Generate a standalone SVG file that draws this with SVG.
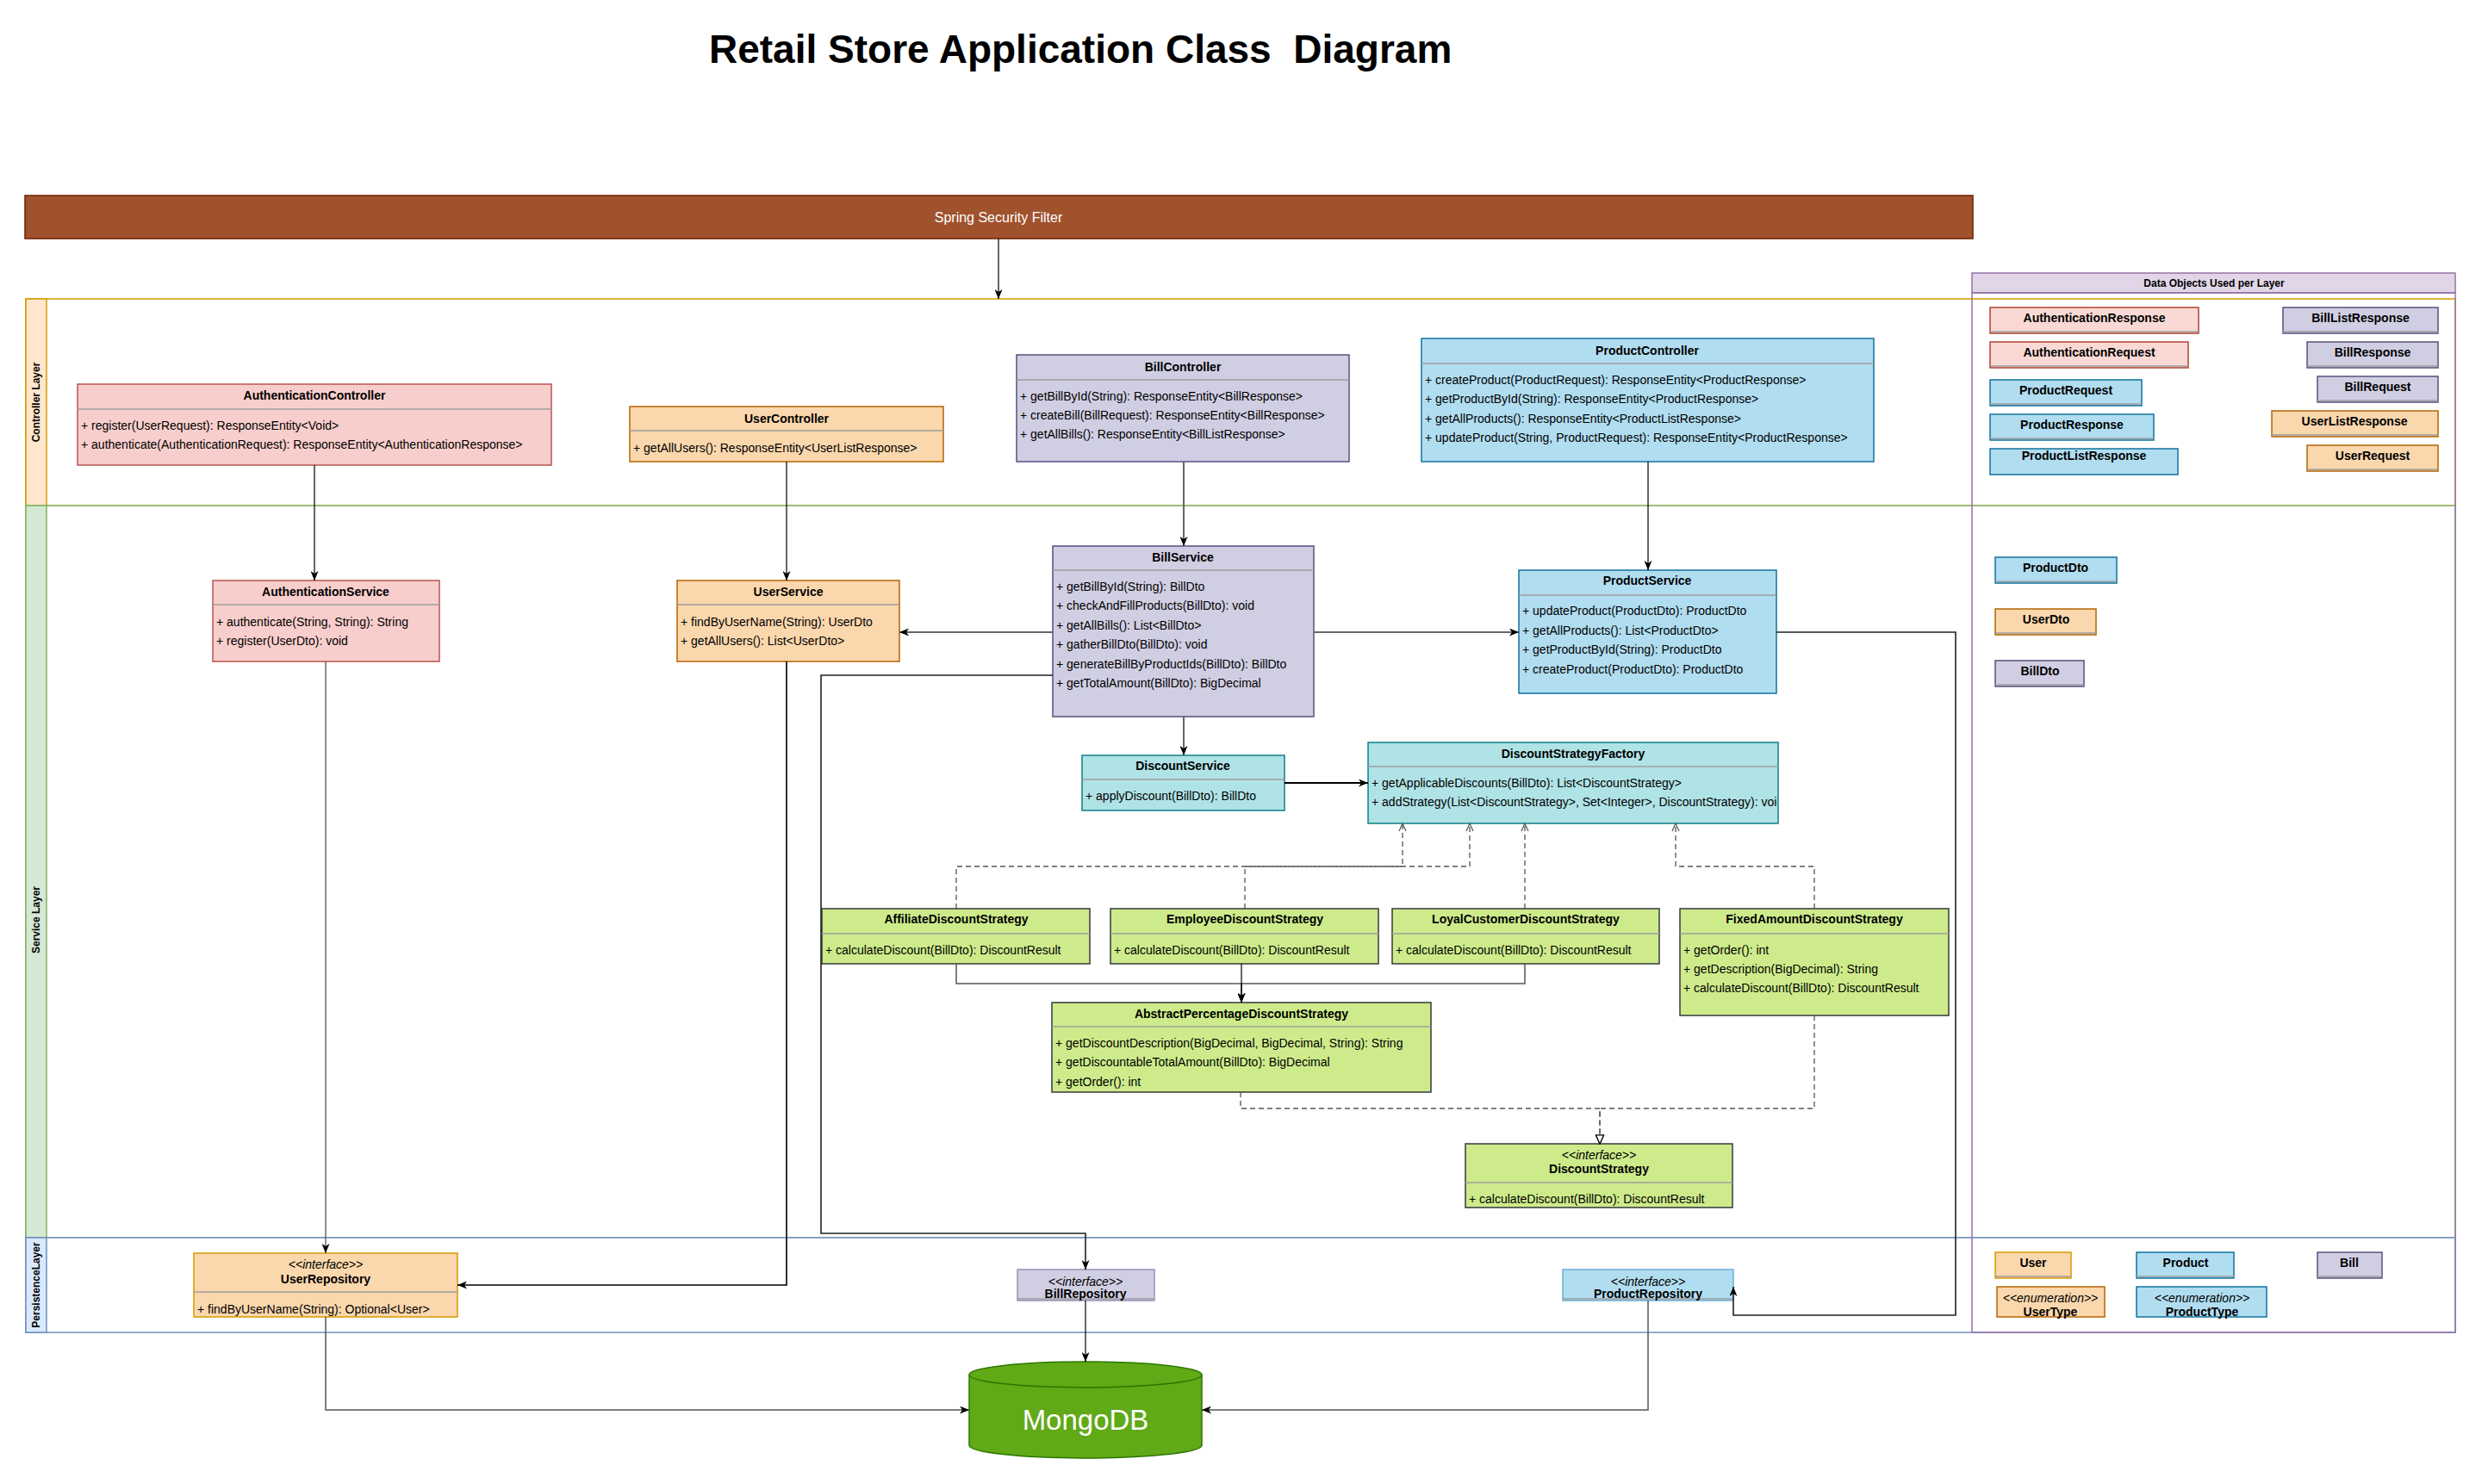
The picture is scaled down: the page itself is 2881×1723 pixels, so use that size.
<svg xmlns="http://www.w3.org/2000/svg" width="2881" height="1723" viewBox="0 0 2881 1723">
<style>
text{font-family:"Liberation Sans",Arial,Helvetica,sans-serif;font-size:14px;fill:#000}
.b{font-weight:bold}
.c{text-anchor:middle}
.i{font-style:italic}
.sep{stroke:#9e9e9e;stroke-width:1.5}
.box{stroke-width:1.5}
.red{fill:#f8cecc;stroke:#b85450}
.pink{fill:#fad9d5;stroke:#ae4132}
.org{fill:#fad7ac;stroke:#b46504}
.pur{fill:#d0cee2;stroke:#56517e}
.blu{fill:#b1ddf0;stroke:#10739e}
.teal{fill:#b0e3e6;stroke:#0e8088}
.grn{fill:#cdeb8b;stroke:#36393d}
.ln{fill:none;stroke:#000;stroke-width:1.2}
.lg{fill:none;stroke:#666;stroke-width:2}
.ld{fill:none;stroke:#555;stroke-width:1.3;stroke-dasharray:6 4}
.lane{font-size:12px;font-weight:bold}
</style>
<defs>
<marker id="arr" markerUnits="userSpaceOnUse" markerWidth="11" markerHeight="9" refX="11" refY="4.5" orient="auto">
<path d="M0,0 L11,4.5 L0,9 L3,4.5 Z" fill="#000"/>
</marker>
<marker id="open" markerUnits="userSpaceOnUse" markerWidth="11" markerHeight="11" refX="10" refY="5" orient="auto">
<path d="M1,1 L10,5 L1,9" fill="none" stroke="#555" stroke-width="1.2"/>
</marker>
<marker id="tri" markerUnits="userSpaceOnUse" markerWidth="12" markerHeight="12" refX="11" refY="5.5" orient="auto">
<path d="M1,1 L11,5.5 L1,10 Z" fill="#fff" stroke="#000" stroke-width="1.2"/>
</marker>
<clipPath id="clipF"><rect x="1588" y="862" width="475" height="94"/></clipPath>
</defs>
<rect x="0" y="0" width="2881" height="1723" fill="#fff"/>

<text id="title" x="823" y="73" class="b" style="font-size:46px;white-space:pre" xml:space="preserve">Retail Store Application Class  Diagram</text>

<g id="lanes">
<g id="controller-lane">
<rect x="30" y="347" width="2820" height="240" fill="#fff" stroke="#d79b00" stroke-width="1.5"/>
<rect x="30" y="347" width="24" height="240" fill="#ffe6cc" stroke="#d79b00" stroke-width="1.5"/>
<text class="lane c" transform="translate(46,467) rotate(-90)">Controller Layer</text>
</g>
<g id="service-lane">
<rect x="30" y="587" width="2820" height="850" fill="#fff" stroke="#82b366" stroke-width="1.5"/>
<rect x="30" y="587" width="24" height="850" fill="#d5e8d4" stroke="#82b366" stroke-width="1.5"/>
<text class="lane c" transform="translate(46,1068) rotate(-90)">Service Layer</text>
</g>
<g id="persistence-lane">
<rect x="30" y="1437" width="2820" height="110" fill="#fff" stroke="#6c8ebf" stroke-width="1.5"/>
<rect x="30" y="1437" width="24" height="110" fill="#dae8fc" stroke="#6c8ebf" stroke-width="1.5"/>
<text class="lane c" transform="translate(46,1492) rotate(-90)">PersistenceLayer</text>
</g>
</g>

<g id="spring-security-filter">
<rect x="29" y="227" width="2261" height="50" fill="#a0522d" stroke="#6d1f00" stroke-width="1.5"/>
<text x="1159" y="258" class="c" style="font-size:16px;fill:#fff">Spring Security Filter</text>
</g>

<g id="data-objects-panel">
<rect x="2289" y="317" width="561" height="23" fill="#e1d5e7" stroke="#9673a6" stroke-width="1.5"/>
<rect x="2289" y="340" width="561" height="1207" fill="none" stroke="#9673a6" stroke-width="1.5"/>
<text x="2570" y="333" class="b c" style="font-size:12px">Data Objects Used per Layer</text>
</g>

<g id="AuthenticationController">
<rect x="90" y="446" width="550" height="94" class="box red"/>
<line x1="90" y1="475" x2="640" y2="475" class="sep"/>
<text x="365" y="464" class="b c">AuthenticationController</text>
<text x="94" y="499">+ register(UserRequest): ResponseEntity&lt;Void&gt;</text>
<text x="94" y="521">+ authenticate(AuthenticationRequest): ResponseEntity&lt;AuthenticationResponse&gt;</text>
</g>
<g id="UserController">
<rect x="731" y="472" width="364" height="64" class="box org"/>
<line x1="731" y1="500" x2="1095" y2="500" class="sep"/>
<text x="913" y="491" class="b c">UserController</text>
<text x="735" y="525">+ getAllUsers(): ResponseEntity&lt;UserListResponse&gt;</text>
</g>
<g id="BillController">
<rect x="1180" y="412" width="386" height="124" class="box pur"/>
<line x1="1180" y1="441" x2="1566" y2="441" class="sep"/>
<text x="1373" y="431" class="b c">BillController</text>
<text x="1184" y="465">+ getBillById(String): ResponseEntity&lt;BillResponse&gt;</text>
<text x="1184" y="487">+ createBill(BillRequest): ResponseEntity&lt;BillResponse&gt;</text>
<text x="1184" y="509">+ getAllBills(): ResponseEntity&lt;BillListResponse&gt;</text>
</g>
<g id="ProductController">
<rect x="1650" y="393" width="525" height="143" class="box blu"/>
<line x1="1650" y1="422" x2="2175" y2="422" class="sep"/>
<text x="1912" y="412" class="b c">ProductController</text>
<text x="1654" y="446">+ createProduct(ProductRequest): ResponseEntity&lt;ProductResponse&gt;</text>
<text x="1654" y="468">+ getProductById(String): ResponseEntity&lt;ProductResponse&gt;</text>
<text x="1654" y="491">+ getAllProducts(): ResponseEntity&lt;ProductListResponse&gt;</text>
<text x="1654" y="513">+ updateProduct(String, ProductRequest): ResponseEntity&lt;ProductResponse&gt;</text>
</g>

<g id="AuthenticationService">
<rect x="247" y="674" width="263" height="94" class="box red"/>
<line x1="247" y1="702" x2="510" y2="702" class="sep"/>
<text x="378" y="692" class="b c">AuthenticationService</text>
<text x="251" y="727">+ authenticate(String, String): String</text>
<text x="251" y="749">+ register(UserDto): void</text>
</g>
<g id="UserService">
<rect x="786" y="674" width="258" height="94" class="box org"/>
<line x1="786" y1="702" x2="1044" y2="702" class="sep"/>
<text x="915" y="692" class="b c">UserService</text>
<text x="790" y="727">+ findByUserName(String): UserDto</text>
<text x="790" y="749">+ getAllUsers(): List&lt;UserDto&gt;</text>
</g>
<g id="BillService">
<rect x="1222" y="634" width="303" height="198" class="box pur"/>
<line x1="1222" y1="662" x2="1525" y2="662" class="sep"/>
<text x="1373" y="652" class="b c">BillService</text>
<text x="1226" y="686">+ getBillById(String): BillDto</text>
<text x="1226" y="708">+ checkAndFillProducts(BillDto): void</text>
<text x="1226" y="731">+ getAllBills(): List&lt;BillDto&gt;</text>
<text x="1226" y="753">+ gatherBillDto(BillDto): void</text>
<text x="1226" y="776">+ generateBillByProductIds(BillDto): BillDto</text>
<text x="1226" y="798">+ getTotalAmount(BillDto): BigDecimal</text>
</g>
<g id="ProductService">
<rect x="1763" y="662" width="299" height="143" class="box blu"/>
<line x1="1763" y1="691" x2="2062" y2="691" class="sep"/>
<text x="1912" y="679" class="b c">ProductService</text>
<text x="1767" y="714">+ updateProduct(ProductDto): ProductDto</text>
<text x="1767" y="737">+ getAllProducts(): List&lt;ProductDto&gt;</text>
<text x="1767" y="759">+ getProductById(String): ProductDto</text>
<text x="1767" y="782">+ createProduct(ProductDto): ProductDto</text>
</g>
<g id="DiscountService">
<rect x="1256" y="877" width="235" height="64" class="box teal"/>
<line x1="1256" y1="905" x2="1491" y2="905" class="sep"/>
<text x="1373" y="894" class="b c">DiscountService</text>
<text x="1260" y="929">+ applyDiscount(BillDto): BillDto</text>
</g>
<g id="DiscountStrategyFactory">
<rect x="1588" y="862" width="476" height="94" class="box teal"/>
<line x1="1588" y1="890" x2="2064" y2="890" class="sep"/>
<text x="1826" y="880" class="b c">DiscountStrategyFactory</text>
<g clip-path="url(#clipF)">
<text x="1592" y="914">+ getApplicableDiscounts(BillDto): List&lt;DiscountStrategy&gt;</text>
<text x="1592" y="936">+ addStrategy(List&lt;DiscountStrategy&gt;, Set&lt;Integer&gt;, DiscountStrategy): void</text>
</g>
</g>
<g id="AffiliateDiscountStrategy">
<rect x="954" y="1055" width="311" height="64" class="box grn"/>
<line x1="954" y1="1084" x2="1265" y2="1084" class="sep"/>
<text x="1110" y="1072" class="b c">AffiliateDiscountStrategy</text>
<text x="958" y="1108">+ calculateDiscount(BillDto): DiscountResult</text>
</g>
<g id="EmployeeDiscountStrategy">
<rect x="1289" y="1055" width="311" height="64" class="box grn"/>
<line x1="1289" y1="1084" x2="1600" y2="1084" class="sep"/>
<text x="1445" y="1072" class="b c">EmployeeDiscountStrategy</text>
<text x="1293" y="1108">+ calculateDiscount(BillDto): DiscountResult</text>
</g>
<g id="LoyalCustomerDiscountStrategy">
<rect x="1616" y="1055" width="310" height="64" class="box grn"/>
<line x1="1616" y1="1084" x2="1926" y2="1084" class="sep"/>
<text x="1771" y="1072" class="b c">LoyalCustomerDiscountStrategy</text>
<text x="1620" y="1108">+ calculateDiscount(BillDto): DiscountResult</text>
</g>
<g id="FixedAmountDiscountStrategy">
<rect x="1950" y="1055" width="312" height="124" class="box grn"/>
<line x1="1950" y1="1084" x2="2262" y2="1084" class="sep"/>
<text x="2106" y="1072" class="b c">FixedAmountDiscountStrategy</text>
<text x="1954" y="1108">+ getOrder(): int</text>
<text x="1954" y="1130">+ getDescription(BigDecimal): String</text>
<text x="1954" y="1152">+ calculateDiscount(BillDto): DiscountResult</text>
</g>
<g id="AbstractPercentageDiscountStrategy">
<rect x="1221" y="1164" width="440" height="104" class="box grn"/>
<line x1="1221" y1="1192" x2="1661" y2="1192" class="sep"/>
<text x="1441" y="1182" class="b c">AbstractPercentageDiscountStrategy</text>
<text x="1225" y="1216">+ getDiscountDescription(BigDecimal, BigDecimal, String): String</text>
<text x="1225" y="1238">+ getDiscountableTotalAmount(BillDto): BigDecimal</text>
<text x="1225" y="1261">+ getOrder(): int</text>
</g>
<g id="DiscountStrategy">
<rect x="1701" y="1328" width="310" height="74" class="box grn"/>
<line x1="1701" y1="1373" x2="2011" y2="1373" class="sep"/>
<text x="1856" y="1346" class="i c">&lt;&lt;interface&gt;&gt;</text>
<text x="1856" y="1362" class="b c">DiscountStrategy</text>
<text x="1705" y="1397">+ calculateDiscount(BillDto): DiscountResult</text>
</g>

<g id="UserRepository">
<rect x="225" y="1455" width="306" height="74" class="box" fill="#fad7ac" stroke="#d79b00"/>
<line x1="225" y1="1500" x2="531" y2="1500" class="sep"/>
<text x="378" y="1473" class="i c">&lt;&lt;interface&gt;&gt;</text>
<text x="378" y="1490" class="b c">UserRepository</text>
<text x="229" y="1525">+ findByUserName(String): Optional&lt;User&gt;</text>
</g>
<g id="BillRepository">
<rect x="1181" y="1474" width="159" height="36" class="box" fill="#d0cee2" stroke="#9890b8"/>
<line x1="1181" y1="1508" x2="1340" y2="1508" class="sep"/>
<text x="1260" y="1493" class="i c">&lt;&lt;interface&gt;&gt;</text>
<text x="1260" y="1507" class="b c">BillRepository</text>
</g>
<g id="ProductRepository">
<rect x="1814" y="1474" width="198" height="36" class="box" fill="#b1ddf0" stroke="#6aaed6"/>
<line x1="1814" y1="1508" x2="2012" y2="1508" class="sep"/>
<text x="1913" y="1493" class="i c">&lt;&lt;interface&gt;&gt;</text>
<text x="1913" y="1507" class="b c">ProductRepository</text>
</g>
<g id="MongoDB">
<path d="M1125,1596 A135,15 0 0 1 1395,1596 V1678 A135,15 0 0 1 1125,1678 Z" fill="#60a917" stroke="#2d7600" stroke-width="1.5"/>
<path d="M1125,1596 A135,15 0 0 0 1395,1596" fill="none" stroke="#2d7600" stroke-width="1.5"/>
<text x="1260" y="1660" class="c" style="font-size:33px;fill:#fff">MongoDB</text>
</g>

<g id="AuthenticationResponse"><rect x="2310" y="357" width="242" height="30" class="box pink"/><line x1="2310" y1="385" x2="2552" y2="385" class="sep"/><text x="2431" y="374" class="b c">AuthenticationResponse</text></g>
<g id="AuthenticationRequest"><rect x="2310" y="397" width="230" height="30" class="box pink"/><line x1="2310" y1="425" x2="2540" y2="425" class="sep"/><text x="2425" y="414" class="b c">AuthenticationRequest</text></g>
<g id="ProductRequest"><rect x="2310" y="441" width="176" height="30" class="box blu"/><line x1="2310" y1="469" x2="2486" y2="469" class="sep"/><text x="2398" y="458" class="b c">ProductRequest</text></g>
<g id="ProductResponse"><rect x="2310" y="481" width="190" height="30" class="box blu"/><line x1="2310" y1="509" x2="2500" y2="509" class="sep"/><text x="2405" y="498" class="b c">ProductResponse</text></g>
<g id="ProductListResponse"><rect x="2310" y="521" width="218" height="30" class="box blu"/><text x="2419" y="534" class="b c">ProductListResponse</text></g>
<g id="BillListResponse"><rect x="2650" y="357" width="180" height="30" class="box pur"/><line x1="2650" y1="385" x2="2830" y2="385" class="sep"/><text x="2740" y="374" class="b c">BillListResponse</text></g>
<g id="BillResponse"><rect x="2678" y="397" width="152" height="30" class="box pur"/><line x1="2678" y1="425" x2="2830" y2="425" class="sep"/><text x="2754" y="414" class="b c">BillResponse</text></g>
<g id="BillRequest"><rect x="2690" y="437" width="140" height="30" class="box pur"/><line x1="2690" y1="465" x2="2830" y2="465" class="sep"/><text x="2760" y="454" class="b c">BillRequest</text></g>
<g id="UserListResponse"><rect x="2637" y="477" width="193" height="30" class="box org"/><line x1="2637" y1="505" x2="2830" y2="505" class="sep"/><text x="2733" y="494" class="b c">UserListResponse</text></g>
<g id="UserRequest"><rect x="2678" y="517" width="152" height="30" class="box org"/><line x1="2678" y1="545" x2="2830" y2="545" class="sep"/><text x="2754" y="534" class="b c">UserRequest</text></g>
<g id="ProductDto"><rect x="2316" y="647" width="141" height="30" class="box blu"/><line x1="2316" y1="675" x2="2457" y2="675" class="sep"/><text x="2386" y="664" class="b c">ProductDto</text></g>
<g id="UserDto"><rect x="2316" y="707" width="117" height="30" class="box org"/><line x1="2316" y1="735" x2="2433" y2="735" class="sep"/><text x="2375" y="724" class="b c">UserDto</text></g>
<g id="BillDto"><rect x="2316" y="767" width="103" height="30" class="box pur"/><line x1="2316" y1="795" x2="2419" y2="795" class="sep"/><text x="2368" y="784" class="b c">BillDto</text></g>
<g id="User"><rect x="2316" y="1454" width="88" height="30" class="box" fill="#fad7ac" stroke="#d79b00"/><line x1="2316" y1="1482" x2="2404" y2="1482" class="sep"/><text x="2360" y="1471" class="b c">User</text></g>
<g id="Product"><rect x="2480" y="1454" width="113" height="30" class="box blu"/><line x1="2480" y1="1482" x2="2593" y2="1482" class="sep"/><text x="2537" y="1471" class="b c">Product</text></g>
<g id="Bill"><rect x="2690" y="1454" width="75" height="30" class="box pur"/><line x1="2690" y1="1482" x2="2765" y2="1482" class="sep"/><text x="2727" y="1471" class="b c">Bill</text></g>
<g id="UserType"><rect x="2318" y="1494" width="125" height="35" class="box org"/><text x="2380" y="1512" class="i c">&lt;&lt;enumeration&gt;&gt;</text><text x="2380" y="1528" class="b c">UserType</text></g>
<g id="ProductType"><rect x="2480" y="1494" width="151" height="35" class="box blu"/><text x="2556" y="1512" class="i c">&lt;&lt;enumeration&gt;&gt;</text><text x="2556" y="1528" class="b c">ProductType</text></g>

<g id="connectors">
<path d="M1159,277 V347" class="ln" marker-end="url(#arr)"/>
<path d="M365,540 V674" class="ln" marker-end="url(#arr)"/>
<path d="M913,536 V674" class="ln" marker-end="url(#arr)"/>
<path d="M1374,536 V634" class="lg" marker-end="url(#arr)"/>
<path d="M1913,536 V662" class="ln" marker-end="url(#arr)"/>
<path d="M1222,734 H1044" class="lg" marker-end="url(#arr)"/>
<path d="M1525,734 H1763" class="lg" marker-end="url(#arr)"/>
<path d="M1222,784 H953 V1432 H1260 V1474" class="ln" style="stroke:#222;stroke-width:1.6" marker-end="url(#arr)"/>
<path d="M1374,832 V877" class="lg" marker-end="url(#arr)"/>
<path d="M1491,909 H1588" class="ln" style="stroke-width:2" marker-end="url(#arr)"/>
<path d="M2062,734 H2270 V1527 H2012 V1494" class="ln" style="stroke:#222;stroke-width:1.6" marker-end="url(#arr)"/>
<path d="M378,768 V1455" class="ln" style="stroke:#444" marker-end="url(#arr)"/>
<path d="M913,768 V1492 H531" class="ln" style="stroke-width:1.6" marker-end="url(#arr)"/>
<path d="M1110,1055 V1006 H1628 V956" class="ld" marker-end="url(#open)"/>
<path d="M1445,1055 V1006 H1706 V956" class="ld" marker-end="url(#open)"/>
<path d="M1770,1055 V956" class="ld" marker-end="url(#open)"/>
<path d="M2106,1055 V1006 H1945 V956" class="ld" marker-end="url(#open)"/>
<path d="M1110,1119 V1142 H1441 V1164" class="ln" style="stroke:#555;stroke-width:1.5" marker-end="url(#arr)"/>
<path d="M1770,1119 V1142 H1441 V1164" class="ln" style="stroke:#555;stroke-width:1.5" marker-end="url(#arr)"/>
<path d="M1441,1119 V1164" class="ln" marker-end="url(#arr)"/>
<path d="M1440,1268 V1287 H1857 V1328" class="ld" marker-end="url(#tri)"/>
<path d="M2106,1179 V1287 H1857 V1328" class="ld" marker-end="url(#tri)"/>
<path d="M378,1529 V1637 H1125" class="ln" style="stroke:#555;stroke-width:1.5" marker-end="url(#arr)"/>
<path d="M1260,1510 V1581" class="ln" marker-end="url(#arr)"/>
<path d="M1913,1510 V1637 H1395" class="ln" style="stroke:#555;stroke-width:1.5" marker-end="url(#arr)"/>
</g>
</svg>
